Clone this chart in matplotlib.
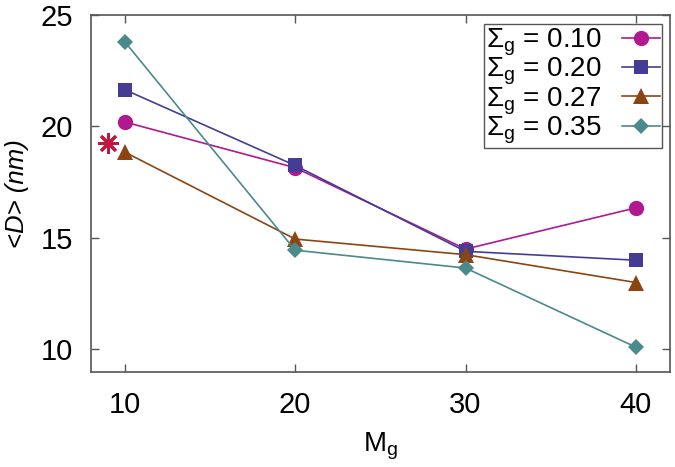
import matplotlib
matplotlib.use("Agg")
import matplotlib.pyplot as plt

plt.rcParams["font.family"] = ["Liberation Sans", "DejaVu Sans"]
plt.rcParams["mathtext.fontset"] = "custom"
plt.rcParams["mathtext.rm"] = "Liberation Sans"
plt.rcParams["mathtext.it"] = "Liberation Sans:italic"

# data
mg = [10, 20, 30, 40]
d_010 = [20.2, 18.15, 14.5, 16.35]
d_020 = [21.65, 18.25, 14.4, 14.0]
d_027 = [18.85, 14.95, 14.25, 13.0]
d_035 = [23.8, 14.45, 13.65, 10.1]
labels = ["0.10", "0.20", "0.27", "0.35"]
star_x = [9.0]
star_y = [19.27]

fig = plt.figure(figsize=(6.75, 4.67), dpi=100)
ax = fig.add_axes([90.7 / 675, 1 - 371.7 / 467, (670 - 90.7) / 675, (371.7 - 15) / 467])

styles = [
    (d_010, "#b0198f", "o", 11),
    (d_020, "#453d94", "s", 10.5),
    (d_027, "#8b4513", "^", 11),
    (d_035, "#4a8a8a", "D", 8),
]
for (vals, col, mk, ms), lab in zip(styles, labels):
    ax.plot(mg, vals, color=col, marker=mk, markersize=ms, linewidth=1.2,
            markeredgewidth=0, label=r"$\Sigma_{\rm g}$ = " + lab)

ax.plot(star_x, star_y, linestyle="none", marker=(8, 2, 0), markersize=15,
        markeredgewidth=2.0, color="#c8143c")

ax.set_xlim(8, 42)
ax.set_ylim(9, 25)
ax.set_xticks(mg)
ax.set_yticks([10, 15, 20, 25])
ax.tick_params(direction="in", length=6, width=1, top=True, right=True,
               labelsize=21, colors="#000000", pad=13)
ax.tick_params(axis="x", pad=14)
for s in ax.spines.values():
    s.set_color("#555555")
    s.set_linewidth(1.2)
ax.tick_params(color="#555555")

ax.set_xlabel(r"M$_{\rm g}$", fontsize=20, labelpad=8)
ax.set_ylabel("<D> (nm)", fontsize=18.5, style="italic", labelpad=8)

leg = ax.legend(loc="upper right", bbox_to_anchor=(0.986, 0.974), fontsize=20,
                markerfirst=False, handlelength=1.35, labelspacing=-0.07,
                borderpad=0.08, handletextpad=0.75, borderaxespad=0.0,
                fancybox=False, framealpha=1)
leg.get_frame().set_edgecolor("#555555")
leg.get_frame().set_linewidth(1.0)

fig.savefig("out.png", dpi=100)
